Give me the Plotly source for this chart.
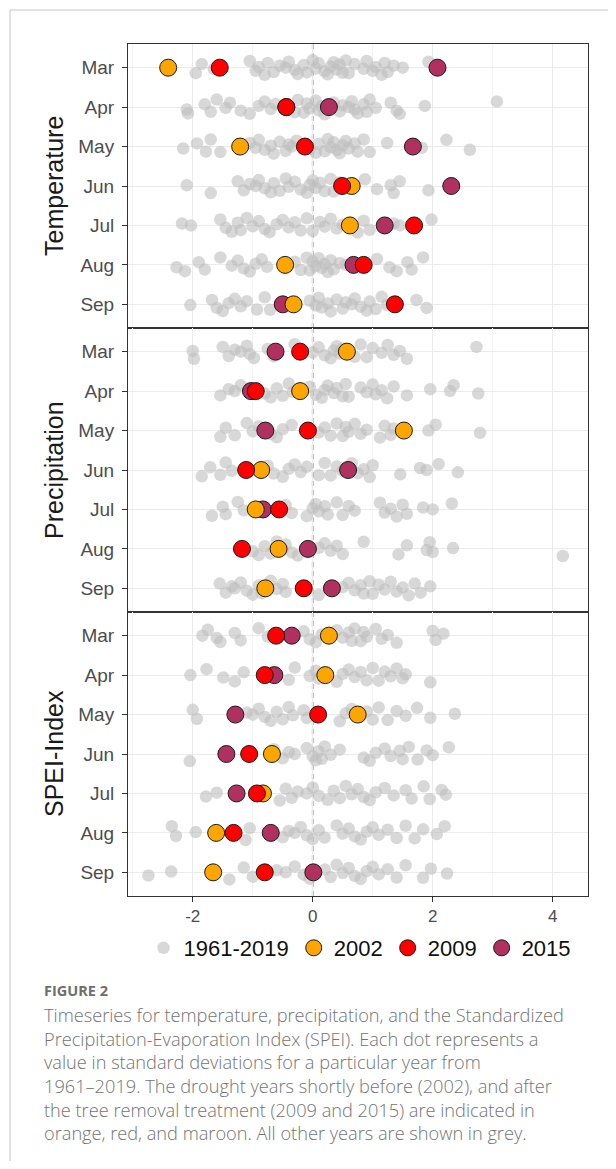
import plotly.graph_objects as go

# ---------------- data ----------------
MONTHS = ["Mar", "Apr", "May", "Jun", "Jul", "Aug", "Sep"]
PANELS = ["Temperature", "Precipitation", "SPEI-Index"]
X_TICKS = [-2, 0, 2, 4]
X_TICK_TEXT = ["-2", "0", "2", "4"]
LEGEND_BACKGROUND = "1961-2019"

# highlighted years (standard deviations), Mar..Sep
TEMP_2002 = [-2.41, -0.44, -1.21, 0.65, 0.62, -0.46, -0.32]
TEMP_2009 = [-1.55, -0.44, -0.13, 0.49, 1.69, 0.85, 1.37]
TEMP_2015 = [2.08, 0.27, 1.67, 2.31, 1.20, 0.68, -0.50]

PREC_2002 = [0.57, -0.21, 1.52, -0.86, -0.95, -0.57, -0.79]
PREC_2009 = [-0.21, -0.95, -0.08, -1.11, -0.56, -1.18, -0.15]
PREC_2015 = [-0.62, -1.03, -0.79, 0.59, -0.83, -0.08, 0.32]

SPEI_2002 = [0.27, 0.21, 0.75, -0.68, -0.83, -1.61, -1.66]
SPEI_2009 = [-0.61, -0.80, 0.09, -1.06, -0.93, -1.32, -0.80]
SPEI_2015 = [-0.35, -0.64, -1.29, -1.44, -1.27, -0.70, 0.01]

# all other years 1961-2019 (grey), per month
TEMP_MAR = [-1.95, -1.85, -1.65, -1.05, -0.95, -0.9, -0.8, -0.75, -0.65, -0.55, -0.45, -0.4, -0.3, -0.25,
            -0.15, -0.1, 0.0, 0.05, 0.1, 0.2, 0.25, 0.3, 0.35, 0.4, 0.45, 0.5, 0.55, 0.6, 0.7, 0.85, 0.9,
            1.0, 1.05, 1.15, 1.2, 1.25, 1.35, 1.5, 1.93]
TEMP_APR = [-2.1, -2.08, -1.8, -1.7, -1.6, -1.45, -1.38, -1.2, -1.05, -0.9, -0.8, -0.7, -0.62, -0.3, -0.25,
            -0.15, -0.1, -0.05, 0.05, 0.1, 0.15, 0.2, 0.35, 0.45, 0.5, 0.6, 0.65, 0.7, 0.75, 0.85, 0.9, 0.95,
            1.05, 1.3, 1.4, 1.45, 1.87, 3.07]
TEMP_MAY = [-2.16, -1.93, -1.78, -1.7, -1.54, -1.05, -0.95, -0.9, -0.8, -0.7, -0.65, -0.55, -0.45, -0.4,
            -0.35, -0.27, -0.05, 0.05, 0.1, 0.2, 0.25, 0.3, 0.35, 0.4, 0.45, 0.5, 0.55, 0.6, 0.7, 0.75, 0.85,
            0.95, 1.24, 1.82, 2.23, 2.62]
TEMP_JUN = [-2.1, -1.7, -1.25, -1.15, -1.05, -0.95, -0.9, -0.8, -0.7, -0.65, -0.55, -0.45, -0.4, -0.3, -0.2,
            -0.1, -0.05, 0.0, 0.05, 0.12, 0.2, 0.3, 0.35, 0.45, 0.55, 0.87, 1.07, 1.3, 1.35, 1.45, 1.93]
TEMP_JUL = [-2.18, -2.03, -1.54, -1.45, -1.35, -1.25, -1.2, -1.1, -1.0, -0.9, -0.8, -0.72, -0.6, -0.5, -0.4,
            -0.3, -0.2, -0.1, 0.0, 0.12, 0.2, 0.3, 0.4, 0.5, 0.75, 0.85, 0.95, 1.35, 1.45, 1.98]
TEMP_AUG = [-2.27, -2.13, -1.9, -1.8, -1.54, -1.35, -1.25, -1.15, -1.05, -0.95, -0.85, -0.76, -0.3, -0.2,
            -0.1, -0.05, 0.0, 0.05, 0.1, 0.15, 0.2, 0.25, 0.3, 0.35, 0.45, 0.55, 1.07, 1.28, 1.4, 1.58, 1.65,
            1.84]
TEMP_SEP = [-2.04, -1.68, -1.6, -1.5, -1.4, -1.3, -1.2, -1.1, -0.93, -0.8, -0.71, -0.05, 0.05, 0.1, 0.15,
            0.25, 0.3, 0.4, 0.5, 0.55, 0.65, 0.7, 0.8, 0.9, 0.95, 1.05, 1.15, 1.24, 1.73, 1.9]

PREC_MAR = [-2.0, -1.98, -1.5, -1.4, -1.3, -1.2, -1.1, -1.05, -0.98, -0.75, -0.65, -0.3, 0.0, 0.1, 0.2, 0.3,
            0.35, 0.4, 0.45, 0.5, 0.7, 0.8, 0.9, 1.0, 1.15, 1.25, 1.35, 1.45, 1.57, 2.73]
PREC_APR = [-1.54, -1.4, -1.3, -1.2, -0.8, -0.7, -0.6, -0.5, -0.4, -0.33, -0.05, 0.05, 0.15, 0.2, 0.25, 0.35,
            0.4, 0.5, 0.55, 0.6, 0.8, 0.9, 1.0, 1.05, 1.15, 1.24, 1.35, 1.57, 1.96, 2.29, 2.35, 2.76]
PREC_MAY = [-1.54, -1.45, -1.3, -1.1, -1.0, -0.9, -0.7, -0.6, -0.5, -0.35, 0.1, 0.2, 0.3, 0.4, 0.5, 0.55,
            0.6, 0.7, 0.8, 0.9, 1.12, 1.2, 1.3, 1.35, 1.93, 2.05, 2.79]
PREC_JUN = [-1.85, -1.71, -1.54, -1.45, -1.35, -0.75, -0.65, -0.5, -0.4, -0.3, -0.2, -0.1, 0.1, 0.2, 0.3,
            0.4, 0.5, 0.65, 0.75, 0.85, 0.95, 1.0, 1.46, 1.79, 1.9, 2.1, 2.42]
PREC_JUL = [-1.68, -1.5, -1.45, -1.25, -1.15, -0.45, -0.35, -0.1, 0.0, 0.05, 0.1, 0.2, 0.25, 0.4, 0.5, 0.6,
            0.7, 1.12, 1.2, 1.3, 1.4, 1.5, 1.57, 1.84, 2.0, 2.32]
PREC_AUG = [-1.0, -0.9, -0.8, -0.7, -0.6, -0.5, -0.45, -0.35, -0.25, 0.1, 0.2, 0.3, 0.4, 0.5, 0.85, 1.43,
            1.57, 1.9, 1.95, 2.0, 2.34, 4.17]
PREC_SEP = [-1.55, -1.45, -1.35, -1.3, -1.2, -1.1, -1.0, -0.9, -0.85, -0.7, -0.6, -0.5, -0.45, 0.1, 0.5, 0.6,
            0.7, 0.8, 0.85, 0.95, 1.0, 1.1, 1.2, 1.3, 1.4, 1.5, 1.6, 1.7, 1.8, 1.96]

SPEI_MAR = [-1.84, -1.75, -1.6, -1.54, -1.3, -1.2, -0.9, -0.75, -0.15, -0.05, 0.05, 0.15, 0.4, 0.5, 0.6,
            0.65, 0.7, 0.8, 0.85, 0.9, 1.05, 1.15, 1.25, 1.4, 2.0, 2.05, 2.18]
SPEI_APR = [-2.04, -1.77, -1.49, -1.3, -1.15, -0.4, -0.3, -0.05, 0.05, 0.1, 0.4, 0.5, 0.6, 0.7, 0.8, 0.9,
            1.0, 1.1, 1.2, 1.3, 1.4, 1.5, 1.55, 1.96]
SPEI_MAY = [-2.0, -1.93, -1.1, -1.0, -0.9, -0.8, -0.7, -0.6, -0.5, -0.4, -0.33, -0.15, -0.1, 0.45, 0.55,
            0.65, 0.8, 0.9, 1.0, 1.1, 1.25, 1.4, 1.55, 1.74, 1.96, 2.37]
SPEI_JUN = [-2.05, -0.65, -0.5, -0.4, -0.3, -0.1, 0.0, 0.05, 0.1, 0.15, 0.2, 0.3, 0.45, 0.85, 0.95, 1.05,
            1.2, 1.3, 1.45, 1.5, 1.6, 1.75, 1.9, 2.0, 2.27]
SPEI_JUL = [-1.78, -1.6, -0.55, -0.45, -0.35, -0.25, -0.1, 0.0, 0.1, 0.25, 0.35, 0.45, 0.55, 0.65, 0.75,
            0.85, 0.95, 1.05, 1.2, 1.35, 1.55, 1.65, 1.85, 1.95, 2.15, 2.22]
SPEI_AUG = [-2.35, -2.28, -1.95, -1.12, -1.05, -0.5, -0.4, -0.3, -0.2, -0.1, 0.0, 0.1, 0.2, 0.4, 0.5, 0.6,
            0.7, 0.8, 0.9, 1.0, 1.1, 1.25, 1.4, 1.55, 1.7, 1.84, 2.07, 2.2]
SPEI_SEP = [-2.74, -2.36, -1.39, -1.15, -1.0, -0.6, -0.45, -0.3, -0.15, -0.05, 0.2, 0.3, 0.4, 0.5, 0.6,
            0.7, 0.8, 0.9, 1.0, 1.1, 1.25, 1.4, 1.55, 1.84, 1.97, 2.24]

CAPTION_TITLE = "FIGURE 2"
CAPTION_LINES = [
    "Timeseries for temperature, precipitation, and the Standardized",
    "Precipitation-Evaporation Index (SPEI). Each dot represents a",
    "value in standard deviations for a particular year from",
    "1961\u20132019. The drought years shortly before (2002), and after",
    "the tree removal treatment (2009 and 2015) are indicated in",
    "orange, red, and maroon. All other years are shown in grey.",
]

# ---------------- assembly ----------------
GREY = [
    [TEMP_MAR, TEMP_APR, TEMP_MAY, TEMP_JUN, TEMP_JUL, TEMP_AUG, TEMP_SEP],
    [PREC_MAR, PREC_APR, PREC_MAY, PREC_JUN, PREC_JUL, PREC_AUG, PREC_SEP],
    [SPEI_MAR, SPEI_APR, SPEI_MAY, SPEI_JUN, SPEI_JUL, SPEI_AUG, SPEI_SEP],
]
HIGHLIGHT = {
    "2002": [TEMP_2002, PREC_2002, SPEI_2002],
    "2009": [TEMP_2009, PREC_2009, SPEI_2009],
    "2015": [TEMP_2015, PREC_2015, SPEI_2015],
}
COLORS = {"2002": "#FFA500", "2009": "#FF0000", "2015": "#B03060"}
RANK = {"2002": 2, "2009": 3, "2015": 4}
DRAW_ORDER = ["2015", "2002", "2009"]

# vertical jitter pattern for the grey dots (display only)
JITTER = [0.14, -0.09, 0.03, -0.17, 0.08, -0.02, 0.18, -0.12, 0.11, -0.05, 0.0, -0.15, 0.06, 0.16,
          -0.07, 0.12, -0.19, 0.02, -0.11, 0.09, 0.17, -0.03, -0.14, 0.05, -0.08, 0.13, -0.18]

# the page has an 8px body margin: the figure is placed at (8, 8)
OFF = 8
W, H = 616 - 2 * OFF, 1169 - 2 * OFF
XP = lambda x: (x - OFF) / W
YP = lambda y: 1 - (y - OFF) / H
PANEL_PX = [(44, 328), (328, 612), (612, 896)]
X_DOM = [XP(128), XP(588)]
FONT = "Liberation Sans, Arial, sans-serif"
CAP_FONT = "Open Sans, sans-serif"

fig = go.Figure()

for p in range(3):
    ax = "" if p == 0 else str(p + 1)
    xs, ys = [], []
    k = p * 5
    for m, vals in enumerate(GREY[p]):
        for v in vals:
            xs.append(v)
            ys.append(m + 1 + JITTER[k % len(JITTER)])
            k += 1
    fig.add_trace(go.Scatter(
        x=xs, y=ys, mode="markers", name=LEGEND_BACKGROUND, legendgroup="bg",
        showlegend=(p == 0), legendrank=1,
        marker=dict(size=12.5, color="rgba(190,190,190,0.6)", line=dict(width=0)),
        xaxis="x" + ax, yaxis="y" + ax, hoverinfo="x",
    ))

for yr in DRAW_ORDER:
    for p in range(3):
        ax = "" if p == 0 else str(p + 1)
        fig.add_trace(go.Scatter(
            x=HIGHLIGHT[yr][p], y=list(range(1, 8)), mode="markers", name=yr, legendgroup=yr,
            showlegend=(p == 0), legendrank=RANK[yr],
            marker=dict(size=17, color=COLORS[yr], line=dict(width=1, color="#1a1a1a")),
            xaxis="x" + ax, yaxis="y" + ax, hoverinfo="x",
        ))

layout = dict(
    width=W, height=H, margin=dict(l=0, r=0, t=0, b=0),
    paper_bgcolor="white", plot_bgcolor="white",
    showlegend=True,
    legend=dict(orientation="h", x=XP(360), xanchor="center", y=YP(948), yanchor="middle",
                font=dict(family=FONT, size=22, color="#111111"), itemsizing="trace",
                tracegroupgap=0, bgcolor="rgba(0,0,0,0)"),
)
shapes = []
annotations = []
for p in range(3):
    ax = "" if p == 0 else str(p + 1)
    top, bot = PANEL_PX[p]
    layout["xaxis" + ax] = dict(
        domain=X_DOM, range=[-3.08, 4.59], anchor="y" + ax,
        tickvals=X_TICKS, ticktext=X_TICK_TEXT,
        showgrid=True, gridcolor="#ebebeb", gridwidth=1, zeroline=False,
        minor=dict(tickvals=[-3, -1, 1, 3], showgrid=True, gridcolor="#f4f4f4", gridwidth=0.6, ticks=""),
        showline=True, linecolor="#333333", linewidth=1, mirror=True,
        ticks="outside" if p == 2 else "", ticklen=5, tickcolor="#333333",
        showticklabels=(p == 2), tickfont=dict(family=FONT, size=17, color="#4d4d4d"),
        fixedrange=True,
    )
    if p > 0:
        layout["xaxis" + ax]["matches"] = "x"
    layout["yaxis" + ax] = dict(
        domain=[YP(bot), YP(top)], range=[7.6, 0.4], anchor="x" + ax,
        tickvals=list(range(1, 8)), ticktext=MONTHS,
        showgrid=True, gridcolor="#ebebeb", gridwidth=1, zeroline=False,
        showline=True, linecolor="#333333", linewidth=1, mirror=True,
        ticks="outside", ticklen=5, tickcolor="#333333", ticklabelstandoff=4,
        tickfont=dict(family=FONT, size=19, color="#4d4d4d"), fixedrange=True,
    )
    shapes.append(dict(type="line", xref="x" + ax, yref="y" + ax + " domain", x0=0, x1=0, y0=0, y1=1,
                       line=dict(color="#8f8f8f", width=1.7, dash="5px,4px"), layer="below"))
    annotations.append(dict(text=PANELS[p], x=XP(54), y=YP((top + bot) / 2), xref="paper", yref="paper",
                            textangle=-90, showarrow=False, xanchor="center", yanchor="middle",
                            font=dict(family=FONT, size=25, color="#1a1a1a")))

# card border
shapes.append(dict(type="line", xref="paper", yref="paper", x0=XP(10), x1=1, y0=YP(10), y1=YP(10),
                   line=dict(color="#c4c4c4", width=1)))
shapes.append(dict(type="line", xref="paper", yref="paper", x0=XP(10), x1=XP(10), y0=0, y1=YP(10),
                   line=dict(color="#c4c4c4", width=1)))

annotations.append(dict(text="<b>" + CAPTION_TITLE + "</b>", x=XP(42), y=YP(990), xref="paper", yref="paper",
                        showarrow=False, xanchor="left", yanchor="middle",
                        font=dict(family=CAP_FONT, size=14.5, color="#6e6e6e")))
annotations.append(dict(text="<br>".join(CAPTION_LINES), x=XP(42), y=YP(1001), xref="paper", yref="paper",
                        showarrow=False, xanchor="left", yanchor="top", align="left",
                        font=dict(family=CAP_FONT, size=18.2, color="#747474", weight=300)))

layout["shapes"] = shapes
layout["annotations"] = annotations
fig.update_layout(**layout)
fig.write_html("out.html")
